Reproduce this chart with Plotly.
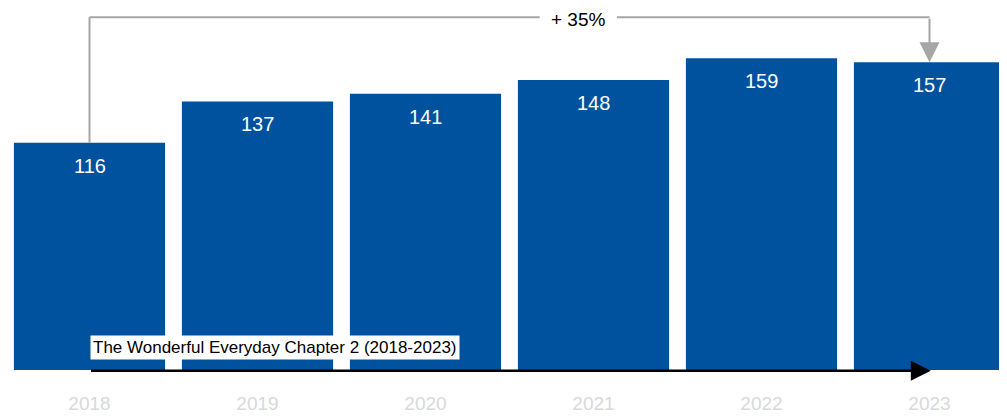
import plotly.graph_objects as go

years = ["2018", "2019", "2020", "2021", "2022", "2023"]
values = [116, 137, 141, 148, 159, 157]
period_label = "The Wonderful Everyday Chapter 2 (2018-2023)"

BAR = "#00529F"
GREY = "#A6A6A6"
FONT = "Liberation Sans, Arial, sans-serif"

W, H = 999, 408          # page body has an 8px margin
BASE = 364               # pixel row of the baseline inside the figure
PXY = 1.96               # pixels per value unit
PXX = 168.0              # pixels per category
CX0 = 81.5               # pixel column of first category centre

xs = list(range(len(years)))
fig = go.Figure(go.Bar(x=xs, y=values, width=0.9, marker=dict(color=BAR, line=dict(width=0)),
                       hoverinfo="skip"))

ann = []
for x, v in zip(xs, values):
    ann.append(dict(x=x, y=v, text=str(v), showarrow=False, yanchor="top", yshift=-10,
                    font=dict(color="white", size=20, family=FONT)))

top_y = 180
first, last = xs[0], xs[-1]
pct = round((values[-1] / values[0] - 1) * 100)
label_x = 2.91
gap = 0.23
shapes = [
    dict(type="line", x0=first, x1=first, y0=values[0], y1=top_y, line=dict(color=GREY, width=2)),
    dict(type="line", x0=first, x1=label_x - gap, y0=top_y, y1=top_y, line=dict(color=GREY, width=2)),
    dict(type="line", x0=label_x + gap, x1=last, y0=top_y, y1=top_y, line=dict(color=GREY, width=2)),
]
ann.append(dict(x=last, y=values[-1], ax=last, ay=top_y, axref="x", ayref="y", xref="x", yref="y",
                showarrow=True, arrowhead=2, arrowsize=2.0, arrowwidth=2, arrowcolor=GREY, text=""))
ann.append(dict(x=label_x, xref="x", y=1, yref="paper", yanchor="top", text=f"+ {pct}%",
                showarrow=False, borderpad=0,
                font=dict(color="black", size=19, family=FONT)))

ann.append(dict(x=last + 0.008, y=-0.4, ax=first, ay=-0.4, axref="x", ayref="y", xref="x", yref="y",
                showarrow=True, arrowhead=2, arrowsize=1.6, arrowwidth=2.5, arrowcolor="black", text=""))
ann.append(dict(x=first, y=11.3, xanchor="left", yanchor="middle", text=period_label, showarrow=False,
                bgcolor="white", borderpad=2, font=dict(color="black", size=17, family=FONT)))

fig.update_layout(
    width=W, height=H,
    margin=dict(l=0, r=0, t=0, b=H - BASE),
    paper_bgcolor="white", plot_bgcolor="white",
    showlegend=False,
    xaxis=dict(range=[-CX0 / PXX, (W - CX0) / PXX], tickmode="array", tickvals=xs, ticktext=years,
               showgrid=False, zeroline=False, showline=False, ticks="", ticklabelstandoff=18,
               tickfont=dict(color="#D9D9D9", size=19, family=FONT)),
    yaxis=dict(range=[-2 / PXY, BASE / PXY - 2 / PXY], visible=False, showgrid=False, zeroline=False),
    shapes=shapes, annotations=ann,
)
fig.write_html("out.html", config={"displayModeBar": False})
